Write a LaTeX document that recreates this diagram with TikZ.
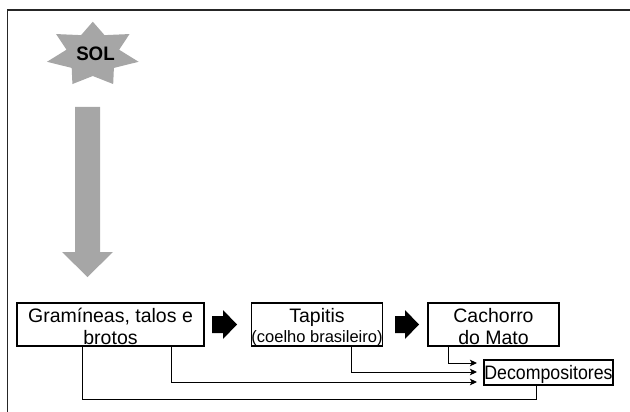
\documentclass[tikz,border=0pt]{standalone}
\usepackage{fontspec}
\setmainfont{Liberation Sans}
\usepackage{graphicx}
\usetikzlibrary{arrows.meta,calc}
\definecolor{solgray}{RGB}{166,166,166}
\newcommand{\mytopstrut}{\rule{0pt}{19pt}}
\newcommand{\mybotstrut}{\rule[-2pt]{0pt}{2pt}}
\newcommand{\mybotstrutb}{\rule[-4pt]{0pt}{4pt}}
\begin{document}
\begin{tikzpicture}[x=1pt,y=-1pt,
  box/.style={draw=black,line width=1.1pt,inner sep=0pt,align=center,
    font=\fontsize{19.5}{22}\selectfont},
  conn/.style={draw=black,line width=1pt},
  tip/.style={-{Stealth[length=7pt,width=6.5pt,inset=1.5pt]}},
  blockarrow/.style={fill=black},
  frame/.style={draw=black!85,line width=1.6pt}]
\useasboundingbox (0,0) rectangle (630,412);
% frame
\draw[frame] (630,10) -- (7.5,10) -- (7.5,412);
% sun
\fill[solgray,shift={(92.8,54.5)}] (90:47pt and 32.8pt)
  \foreach \k in {0,...,6} {
    -- ({90+\k*360/7+180/7}:27pt and 21.5pt)
    -- ({90+(\k+1)*360/7}:47pt and 32.8pt) } -- cycle;
\node[font=\bfseries\fontsize{19.5}{22}\selectfont,inner sep=0pt] (sol) at (95.5,53.7) {\scalebox{0.96}[1]{SOL}};
% big gray arrow
\fill[solgray] (75,107) -- (100,107) -- (100,252) -- (113,252) -- (87.5,277)
  -- (62,252) -- (75,252) -- cycle;
% boxes
\node[box,minimum width=187pt,minimum height=43pt] (gram) at (110.5,324.5)
  {\mytopstrut Gramíneas, talos e\\brotos\mybotstrut};
\node[box,minimum width=130pt,minimum height=43pt] (tap) at (317,324.5)
  {\mytopstrut Tapitis\\[-2pt]{\fontsize{16.5}{18}\selectfont(coelho brasileiro)}\mybotstrutb};
\node[box,minimum width=131pt,minimum height=43pt] (cach) at (493.5,324.5)
  {\mytopstrut Cachorro\\do Mato\mybotstrut};
\node[box,minimum width=129pt,minimum height=25pt,text height=14pt,text depth=0pt] (dec) at (548.5,372.5)
  {\scalebox{0.91}[1]{Decompositores}};
% black block arrows
\fill[blockarrow,shift={(212,324.5)}] (0,-8.5) -- (11,-8.5) -- (11,-14.5) -- (25,0)
  -- (11,14.5) -- (11,8.5) -- (0,8.5) -- cycle;
\fill[blockarrow,shift={(395,324.5)}] (0,-8.5) -- (10,-8.5) -- (10,-14.5) -- (24,0)
  -- (10,14.5) -- (10,8.5) -- (0,8.5) -- cycle;
% connectors
\coordinate (d1) at (477,363);
\coordinate (d2) at (477,372);
\coordinate (d3) at (477,382);
\coordinate (d4) at (536,399);
\draw[conn,tip] ([xshift=-45.5pt]cach.south) |- (d1);
\draw[conn,tip] ([xshift=34pt]tap.south) |- (d2);
\draw[conn,tip] ([xshift=60.5pt]gram.south) |- (d3);
\draw[conn] ([xshift=-28.5pt]gram.south) |- (d4) -- ([xshift=-12.5pt]dec.south);
\end{tikzpicture}
\end{document}
